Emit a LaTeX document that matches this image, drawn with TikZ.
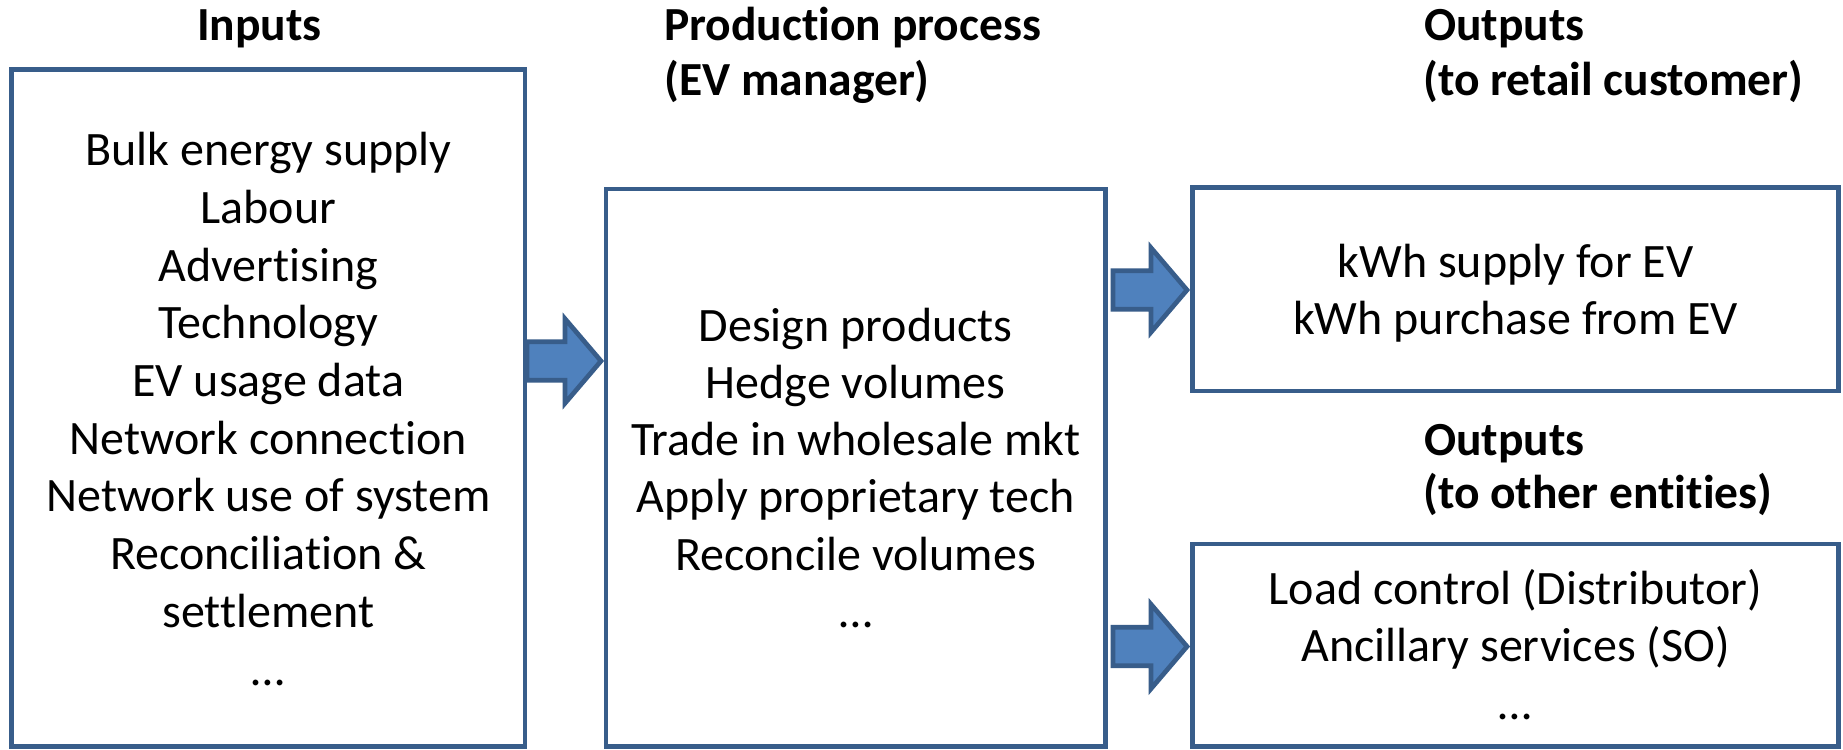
\documentclass[tikz,border=0pt]{standalone}
\usepackage{fontspec}
\setmainfont{Carlito}[Ligatures=NoCommon]
\usetikzlibrary{calc}
\definecolor{boxline}{HTML}{385D8A}
\definecolor{arrowfill}{HTML}{4F81BD}
\tikzset{
  panel/.style={draw=boxline, line width=4.7pt, rectangle, outer sep=0pt, inner sep=0pt},
  heading/.style={font=\bfseries\fontsize{47.5}{57}\selectfont, inner sep=0pt, anchor=base west},
  item/.style={font=\fontsize{48}{57.6}\selectfont, inner sep=0pt, anchor=base},
  blockarrow/.style={draw=boxline, fill=arrowfill, line width=4.7pt, line join=miter},
}
% block arrow from #1 (tail centre) to #2 (tip)
\newcommand{\blockarrowpath}[2]{%
  \path[blockarrow] let \p1=(#1), \p2=(#2) in
    (\x1,\y1+19.2pt) -- (\x2-36pt,\y1+19.2pt) -- (\x2-36pt,\y1+42.2pt) -- (\x2,\y1)
    -- (\x2-36pt,\y1-42.2pt) -- (\x2-36pt,\y1-19.2pt) -- (\x1,\y1-19.2pt) -- cycle;}
\begin{document}
\begin{tikzpicture}[x=1pt, y=-1pt]
\fill[white] (0,0) rectangle (1843,749);
\useasboundingbox (0,0) rectangle (1843,749);

% headings
\node[heading] (hin) at (197,40.5) {Inputs};
\node[heading] (hproc1) at (664,40.5) {Production process};
\node[heading] (hproc2) at (664,95.5) {(EV manager)};
\node[heading] (hret1) at (1424,40.5) {Outputs};
\node[heading] (hret2) at (1423,95.5) {(to retail customer)};
\node[heading] (hoth1) at (1424,455) {Outputs};
\node[heading] (hoth2) at (1423,508) {(to other entities)};

% arrow centre lines
\coordinate (a1s) at (525,361);
\coordinate (a1e) at (601,361);
\coordinate (a2s) at (1113,290);
\coordinate (a2e) at (1187,290);
\coordinate (a3s) at (1113,646.5);
\coordinate (a3e) at (1187,646.5);

% boxes
\node[panel, minimum width=513.3pt, minimum height=677pt] (inputs) at (268.35,408) {};
\node[panel, minimum width=499.5pt, minimum height=557.5pt] (process) at (855.75,467.75) {};
\node[panel, minimum width=646pt, minimum height=203.5pt] (retail) at (1515.5,289.25) {};
\node[panel, minimum width=646pt, minimum height=202.5pt] (others) at (1515.5,645.25) {};

% block arrows between the boxes
\coordinate (t1s) at ($(inputs.east |- a1s)+(2,0)$);
\coordinate (t1e) at ($(process.west |- a1e)+(-5,0)$);
\coordinate (t2s) at ($(process.east |- a2s)+(7.5,0)$);
\coordinate (t2e) at ($(retail.west |- a2e)+(-5.5,0)$);
\coordinate (t3s) at ($(process.east |- a3s)+(7.5,0)$);
\coordinate (t3e) at ($(others.west |- a3e)+(-5.5,0)$);
\blockarrowpath{t1s}{t1e}
\blockarrowpath{t2s}{t2e}
\blockarrowpath{t3s}{t3e}

% box contents
\foreach \t [count=\i] in {Bulk energy supply, Labour, Advertising, Technology, EV usage data,
    Network connection, Network use of system, Reconciliation \&, settlement, …}
  \node[item] (in\i) at (268.35,{165.7+57.7*(\i-1)}) {\t};
\foreach \t [count=\i] in {Design products, Hedge volumes, Trade in wholesale mkt,
    Apply proprietary tech, Reconcile volumes, …}
  \node[item] (pr\i) at (855.75,{341+57.3*(\i-1)}) {\t};
\foreach \t [count=\i] in {kWh supply for EV, kWh purchase from EV}
  \node[item] (rt\i) at (1515.5,{277+57*(\i-1)}) {\t};
\foreach \t [count=\i] in {Load control (Distributor), Ancillary services (SO), …}
  \node[item] (ot\i) at (1515.5,{604+57.5*(\i-1)}) {\t};
\end{tikzpicture}
\end{document}
